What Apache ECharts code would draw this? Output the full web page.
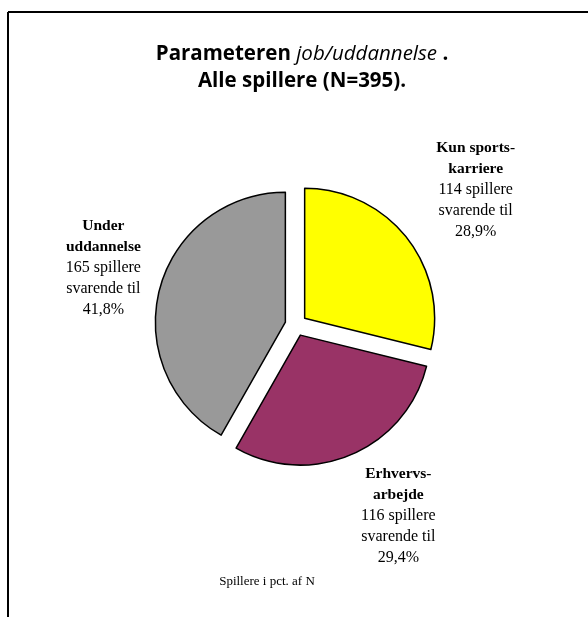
<!DOCTYPE html>
<html>
<head>
<meta charset="utf-8">
<style>
  html, body { margin: 0; padding: 0; background: #fff; }
  #chart { width: 588px; height: 617px; }
</style>
</head>
<body>
<div id="chart"></div>
<script src="https://cdn.jsdelivr.net/npm/echarts@6/dist/echarts.min.js"></script>
<script>
    // data
    var categories = ['Kun sports-\nkarriere', 'Erhvervs-\narbejde', 'Under\nuddannelse'];
    var players = [114, 116, 165];
    var colors = ['#FFFF00', '#993366', '#999999'];
    var total = 395;

    // label block offsets from the (exploded) slice centre
    var labelOffsets = [[171, -128], [98, 181], [-182, -54]];

    var myChart = echarts.init(document.getElementById('chart'));

    var data = categories.map(function (name, i) {
        return { name: name, value: players[i], selected: true, itemStyle: { color: colors[i] } };
    });

    var option = {
        backgroundColor: '#fff',
        animation: false,
        title: {
            text: '{n|Parameteren }{i|job/uddannelse}{n| .}\n{n|Alle spillere (N=395).}',
            left: 297,
            textAlign: 'center',
            top: 36,
            textStyle: {
                rich: {
                    n: { fontFamily: 'Open Sans', fontWeight: 'bold', fontSize: 20.5, color: '#000', lineHeight: 27 },
                    i: { fontFamily: 'Open Sans', fontWeight: 'normal', fontStyle: 'italic', fontSize: 20.5, color: '#000', lineHeight: 27 }
                }
            }
        },
        graphic: [
            { type: 'line', shape: { x1: 8, y1: 12, x2: 588, y2: 12 }, style: { stroke: '#000', lineWidth: 2 } },
            { type: 'line', shape: { x1: 8, y1: 12, x2: 8, y2: 617 }, style: { stroke: '#000', lineWidth: 2 } },
            {
                type: 'text', x: 267, y: 582,
                style: { text: 'Spillere i pct. af N', font: '13px "Liberation Serif"', fill: '#000', align: 'center', verticalAlign: 'middle' }
            }
        ],
        series: [
            {
                name: 'Spillere',
                type: 'pie',
                center: [296, 325],
                radius: 130,
                startAngle: 90,
                selectedMode: 'multiple',
                selectedOffset: 11,
                data: data,
                itemStyle: { borderColor: '#000', borderWidth: 1.5 },
                emphasis: { disabled: true },
                labelLine: { show: false },
                label: {
                    show: true,
                    position: 'center',
                    formatter: function (p) {
                        var pct = (p.value / total * 100).toFixed(1).replace('.', ',');
                        var head = p.name.split('\n').map(function (s) { return '{b|' + s + '}'; }).join('\n');
                        return head + '\n{t|' + p.value + ' spillere}\n{t|svarende til}\n{t|' + pct + '%}';
                    },
                    rich: {
                        b: { fontFamily: 'Liberation Serif', fontWeight: 'bold', fontSize: 15.5, lineHeight: 21, color: '#000', align: 'center' },
                        t: { fontFamily: 'Liberation Serif', fontSize: 16, lineHeight: 21, color: '#000', align: 'center' }
                    }
                },
                labelLayout: function (params) {
                    var o = labelOffsets[params.dataIndex];
                    return { dx: o[0], dy: o[1] };
                }
            }
        ]
    };

    myChart.setOption(option);
</script>
</body>
</html>
